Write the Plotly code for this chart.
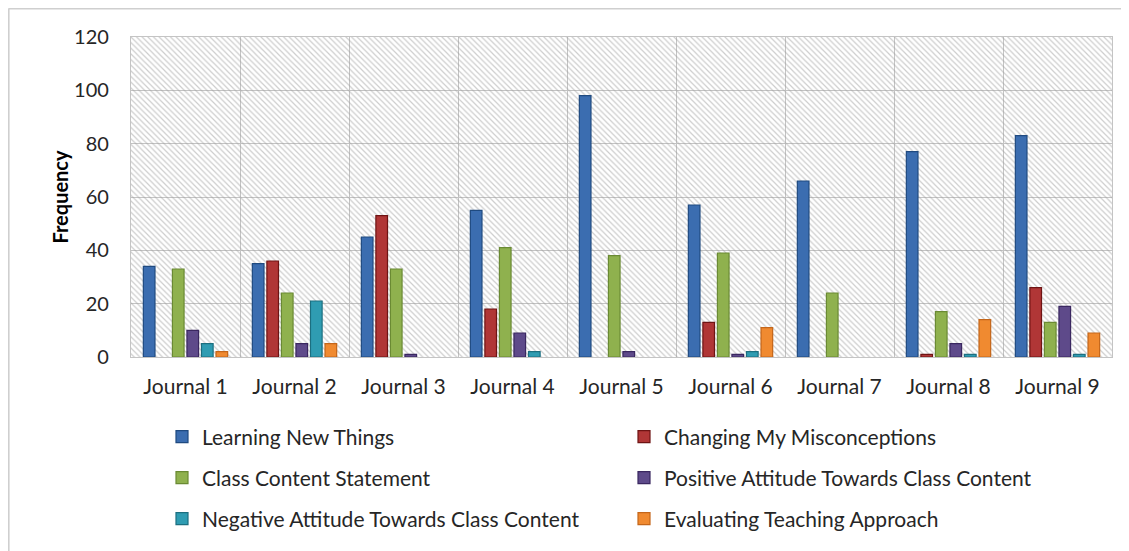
import plotly.graph_objects as go

categories = ["Journal 1", "Journal 2", "Journal 3", "Journal 4", "Journal 5",
              "Journal 6", "Journal 7", "Journal 8", "Journal 9"]
learning_new_things = [34, 35, 45, 55, 98, 57, 66, 77, 83]
changing_misconceptions = [0, 36, 53, 18, 0, 13, 0, 1, 26]
class_content_statement = [33, 24, 33, 41, 38, 39, 24, 17, 13]
positive_attitude = [10, 5, 1, 9, 2, 1, 0, 5, 19]
negative_attitude = [5, 21, 0, 2, 0, 2, 0, 1, 1]
evaluating_teaching = [2, 5, 0, 0, 0, 11, 0, 14, 9]

series = [
    ("Learning New Things", learning_new_things, "#3b6db0", "#1f4a80"),
    ("Changing My Misconceptions", changing_misconceptions, "#b03636", "#6e1414"),
    ("Class Content Statement", class_content_statement, "#8fb14e", "#6a8a33"),
    ("Positive Attitude Towards Class Content", positive_attitude, "#5e4a8a", "#3a2760"),
    ("Negative Attitude Towards Class Content", negative_attitude, "#2f9cb2", "#1c6f80"),
    ("Evaluating Teaching Approach", evaluating_teaching, "#f08a30", "#c4661a"),
]

FONT = "Lato"
W, H = 1121, 543
L, R, T, B = 123, 17, 29, 194
pw, ph = W - L - R, H - T - B

fig = go.Figure()

# hatched plot-area background
fig.add_trace(go.Bar(
    x=[len(categories) / 2], y=[120], width=[len(categories)],
    xaxis="x", yaxis="y", showlegend=False, hoverinfo="skip",
    marker=dict(color="rgba(0,0,0,0)", line=dict(width=0),
                pattern=dict(shape="\\", fgcolor="#9c9c9c", bgcolor="rgba(0,0,0,0)",
                             size=4, solidity=0.3)),
))

legend_ids = ["legend", "legend2", "legend3", "legend4", "legend5", "legend6"]
for (name, vals, col, edge), lg in zip(series, legend_ids):
    fig.add_trace(go.Bar(
        x=categories, y=[v if v > 0 else None for v in vals], name=name,
        xaxis="x2", yaxis="y", legend=lg,
        marker=dict(color=col, line=dict(color=edge, width=1.2)),
    ))

grid = "#c4c4c4"
fig.update_layout(
    width=W, height=H,
    margin=dict(l=L, r=R, t=T, b=B, autoexpand=False),
    paper_bgcolor="white", plot_bgcolor="white",
    font=dict(family=FONT, size=20, color="#262626"),
    barmode="group", bargap=0.2, bargroupgap=0.2,
    xaxis=dict(type="linear", range=[0, len(categories)], tickvals=list(range(len(categories) + 1)),
               showticklabels=False, showgrid=True, gridcolor=grid, gridwidth=1.3,
               zeroline=False, showline=True, mirror=True, linecolor=grid, linewidth=1.3,
               fixedrange=True),
    xaxis2=dict(overlaying="x", side="bottom", type="category",
                range=[-0.5, len(categories) - 0.5], showgrid=False, showline=False,
                ticks="", ticklabelstandoff=15, tickfont=dict(size=21, color="#262626")),
    yaxis=dict(range=[0, 120], dtick=20, showgrid=True, gridcolor=grid, gridwidth=1.3,
               zeroline=False, showline=True, mirror=True, linecolor=grid, linewidth=1.3,
               ticks="", ticklabelstandoff=17, tickfont=dict(size=20, color="#262626"),
               title=dict(text="<b>Frequency</b>", font=dict(size=20, color="#000000"),
                          standoff=0)),
    showlegend=True,
)

leg_common = dict(orientation="h", xanchor="left", yanchor="middle",
                  font=dict(size=21, color="#262626"), bgcolor="rgba(0,0,0,0)")
rows_y = [429, 470, 511]
cols_x = [154, 616]
legend_keys = ["legend", "legend2", "legend3", "legend4", "legend5", "legend6"]
for i, key in enumerate(legend_keys):
    r, c = divmod(i, 2)
    fig.update_layout({key: dict(leg_common, x=(cols_x[c] - L) / pw,
                                 y=1 - (rows_y[r] - T) / ph)})

# outer frame (top and left edges visible)
fig.add_shape(type="line", xref="paper", yref="paper",
              x0=(0.5 - L) / pw, x1=(W - L) / pw, y0=1 + (T - 0.8) / ph, y1=1 + (T - 0.8) / ph,
              line=dict(color="#cfcfcf", width=1.6))
fig.add_shape(type="line", xref="paper", yref="paper",
              x0=(0.8 - L) / pw, x1=(0.8 - L) / pw, y0=-(B) / ph, y1=1 + (T - 0.5) / ph,
              line=dict(color="#cfcfcf", width=1.6))

fig.write_html("out.html")
